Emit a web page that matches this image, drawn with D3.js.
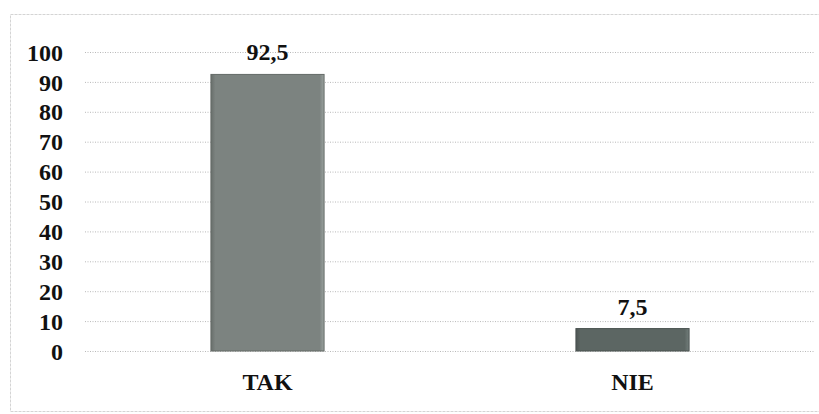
<!DOCTYPE html>
<html>
<head>
<meta charset="utf-8">
<script src="https://cdn.jsdelivr.net/npm/d3@7"></script>
<style>
  body { margin: 0; background: #fff; }
  svg text { font-family: 'Liberation Serif', Tinos, 'Times New Roman', Times, serif !important; font-weight: 700; fill: #111; }
</style>
</head>
<body>
<div id="chart"></div>
<script>
// data
const categories = ["TAK", "NIE"];
const values = [92.5, 7.5];
const valueLabels = ["92,5", "7,5"];
const yTicks = [0, 10, 20, 30, 40, 50, 60, 70, 80, 90, 100];

const barColors = ["#7c8380", "#5c6663"];

// set the dimensions and margins of the graph
const W = 819, H = 414;
const margin = {top: 52, right: 4, bottom: 63, left: 85},
    width = W - margin.left - margin.right,
    height = H - margin.top - margin.bottom;

const root = d3.select("#chart")
    .append("svg")
    .attr("width", W)
    .attr("height", H);

// light frame round the chart area
root.append("rect")
    .attr("x", 10.5)
    .attr("y", 14.5)
    .attr("width", W)
    .attr("height", 397)
    .attr("fill", "none")
    .attr("stroke", "#d4d4d4")
    .attr("stroke-dasharray", "3,1");

const svg = root.append("g")
    .attr("transform", "translate(" + margin.left + "," + margin.top + ")");

// scales
const x = d3.scaleBand()
    .domain(categories)
    .range([0, width])
    .paddingInner(0.69)
    .paddingOuter(0.345);

const y = d3.scaleLinear()
    .domain([0, 100])
    .range([height, 0]);

// gridlines
svg.append("g")
    .selectAll("line")
    .data(yTicks)
    .enter()
    .append("line")
    .attr("x1", 0)
    .attr("x2", width)
    .attr("y1", d => y(d) + 0.5)
    .attr("y2", d => y(d) + 0.5)
    .attr("stroke", "#b9b9b9")
    .attr("stroke-dasharray", "1,1.5");

// Y axis labels
const yAxis = svg.append("g")
    .call(d3.axisLeft(y).tickValues(yTicks).tickSize(0).tickPadding(22));
yAxis.attr("font-family", null);
yAxis.select(".domain").remove();
yAxis.selectAll("text")
    .attr("font-size", 24)
    .attr("dy", "0.34em");

// X axis labels
const xAxis = svg.append("g")
    .attr("transform", "translate(0," + height + ")")
    .call(d3.axisBottom(x).tickSize(0).tickPadding(22));
xAxis.attr("font-family", null);
xAxis.select(".domain").remove();
xAxis.selectAll("text")
    .attr("font-size", 24)
    .attr("dy", "0.71em");

// bevel gradient
const defs = root.append("defs");
barColors.forEach(function(c, i) {
  const g = defs.append("linearGradient")
      .attr("id", "bev" + i)
      .attr("x1", 0).attr("x2", 1).attr("y1", 0).attr("y2", 0);
  g.append("stop").attr("offset", "0%").attr("stop-color", d3.color(c).darker(0.5));
  g.append("stop").attr("offset", "4%").attr("stop-color", c);
  g.append("stop").attr("offset", "96%").attr("stop-color", c);
  g.append("stop").attr("offset", "100%").attr("stop-color", d3.color(c).brighter(0.6));
});

// bars
svg.selectAll(".bar")
    .data(values)
    .enter()
    .append("rect")
    .attr("class", "bar")
    .attr("x", (d, i) => x(categories[i]))
    .attr("y", d => y(d))
    .attr("width", x.bandwidth())
    .attr("height", d => height - y(d))
    .attr("fill", (d, i) => "url(#bev" + i + ")")
    .attr("stroke", (d, i) => d3.color(barColors[i]).darker(0.6))
    .attr("stroke-width", 1);

// value labels
svg.selectAll(".val")
    .data(values)
    .enter()
    .append("text")
    .attr("class", "val")
    .attr("text-anchor", "middle")
    .attr("x", (d, i) => x(categories[i]) + x.bandwidth() / 2)
    .attr("y", d => y(d) - 14)
    .attr("font-size", 24)
    .text((d, i) => valueLabels[i]);
</script>
</body>
</html>
